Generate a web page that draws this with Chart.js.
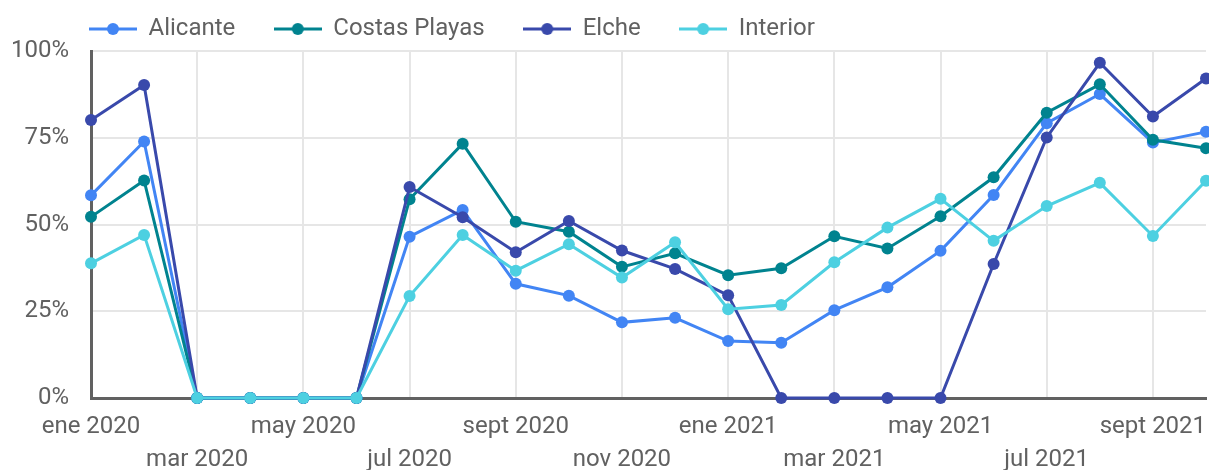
<!DOCTYPE html>
<html>
<head>
<meta charset="utf-8">
<script src="https://cdn.jsdelivr.net/npm/chart.js"></script>
<style>
  html, body { margin: 0; padding: 0; background: #fff; }
  #wrap { width: 1209px; height: 470px; position: relative; }
</style>
</head>
<body>
<div id="wrap"><canvas id="chart"></canvas></div>
<script>
// months on the x axis (Spanish short names, as in the source report)
const months = [
    'ene 2020', 'feb 2020', 'mar 2020', 'abr 2020', 'may 2020', 'jun 2020',
    'jul 2020', 'ago 2020', 'sept 2020', 'oct 2020', 'nov 2020', 'dic 2020',
    'ene 2021', 'feb 2021', 'mar 2021', 'abr 2021', 'may 2021', 'jun 2021',
    'jul 2021', 'ago 2021', 'sept 2021', 'oct 2021'
];

// percentages
const alicante = [58.4, 73.9, 0, 0, 0, 0, 46.5, 54.2, 32.9, 29.5, 21.8, 23.1, 16.4, 15.9, 25.3, 31.9, 42.4, 58.5, 79.2, 87.6, 73.6, 76.7];
const costasPlayas = [52.2, 62.7, 0, 0, 0, 0, 57.3, 73.3, 50.8, 47.9, 37.8, 41.7, 35.4, 37.4, 46.6, 43.1, 52.4, 63.6, 82.2, 90.4, 74.4, 72.0];
const elche = [80.1, 90.2, 0, 0, 0, 0, 60.8, 52.1, 42.0, 51.0, 42.5, 37.2, 29.6, 0, 0, 0, 0, 38.6, 75.1, 96.6, 81.1, 92.1];
const interior = [38.8, 47.0, 0, 0, 0, 0, 29.4, 47.0, 36.7, 44.3, 34.7, 44.9, 25.6, 26.8, 39.1, 49.1, 57.4, 45.3, 55.3, 62.0, 46.7, 62.6];

const yTicks = [0, 25, 50, 75, 100];

const textColor = '#616161';
const gridColor = '#e6e6e6';
const axisColor = '#616161';

Chart.defaults.font.family = 'Roboto';
Chart.defaults.font.size = 24;
Chart.defaults.color = textColor;

// little line-with-dot swatch for the legend
function legendSwatch(color) {
    const c = document.createElement('canvas');
    c.width = 48;
    c.height = 14;
    const g = c.getContext('2d');
    g.strokeStyle = color;
    g.lineWidth = 3;
    g.beginPath();
    g.moveTo(0, 7);
    g.lineTo(48, 7);
    g.stroke();
    g.fillStyle = color;
    g.beginPath();
    g.arc(24, 7, 6, 0, Math.PI * 2);
    g.fill();
    return c;
}

function series(label, data, color, order) {
    return {
        label: label,
        data: data,
        borderColor: color,
        backgroundColor: color,
        borderWidth: 3,
        pointRadius: 6,
        pointHoverRadius: 6,
        pointBorderWidth: 0,
        tension: 0,
        clip: false,
        order: order
    };
}

// the legend sits left-aligned over the plot, so nudge it after layout
const legendPadding = 39;
const legendShift = {
    id: 'legendShift',
    afterLayout(chart) {
        const lg = chart.legend;
        const w = lg.width;
        lg.left = chart.chartArea.left - legendPadding - 1.5;
        lg.right = lg.left + w;
        lg.top = -22;
    }
};

const ctx = document.getElementById('chart').getContext('2d');
new Chart(ctx, {
    type: 'line',
    data: {
        labels: months,
        datasets: [
            series('Alicante', alicante, '#4285F4', 4),
            series('Costas Playas', costasPlayas, '#00838F', 3),
            series('Elche', elche, '#3949AB', 2),
            series('Interior', interior, '#4DD0E1', 1)
        ]
    },
    options: {
        responsive: true,
        maintainAspectRatio: false,
        animation: false,
        devicePixelRatio: 1,
        layout: {
            autoPadding: false,
            padding: { left: 12, right: 3, top: 0, bottom: 0 }
        },
        plugins: {
            tooltip: { enabled: false },
            legend: {
                position: 'top',
                align: 'start',
                maxHeight: 51,
                labels: {
                    usePointStyle: true,
                    pointStyleWidth: 47,
                    padding: legendPadding,
                    color: textColor,
                    font: { size: 24 },
                    sort: (a, b) => a.datasetIndex - b.datasetIndex,
                    generateLabels(chart) {
                        const items = Chart.defaults.plugins.legend.labels.generateLabels(chart);
                        items.forEach(it => {
                            it.pointStyle = legendSwatch(chart.data.datasets[it.datasetIndex].borderColor);
                        });
                        return items;
                    }
                }
            }
        },
        scales: {
            x: {
                offset: false,
                afterFit: axis => {
                    axis.height = 72;
                    axis.paddingLeft = 0;
                    axis.paddingRight = 0;
                },
                grid: {
                    drawTicks: false,
                    lineWidth: 2,
                    color: c => (c.index % 2 === 0 && c.index > 0) ? gridColor : 'rgba(0,0,0,0)'
                },
                border: { display: true, color: axisColor, width: 3 },
                ticks: {
                    autoSkip: false,
                    maxRotation: 0,
                    minRotation: 0,
                    padding: 13,
                    color: textColor,
                    font: { size: 24, lineHeight: 1.35 },
                    callback: function (val, i) {
                        if (i % 2) return '';
                        const lab = months[i];
                        return i % 4 === 0 ? [lab, ''] : ['', lab];
                    }
                }
            },
            y: {
                min: 0,
                max: 100,
                afterBuildTicks: axis => {
                    axis.ticks = yTicks.map(v => ({ value: v }));
                },
                afterFit: axis => {
                    axis.width = 79;
                },
                grid: {
                    drawTicks: false,
                    lineWidth: 2,
                    color: gridColor
                },
                border: { display: true, color: axisColor, width: 3 },
                ticks: {
                    padding: 22,
                    color: textColor,
                    callback: v => v + '%'
                }
            }
        }
    },
    plugins: [legendShift]
});
</script>
</body>
</html>
